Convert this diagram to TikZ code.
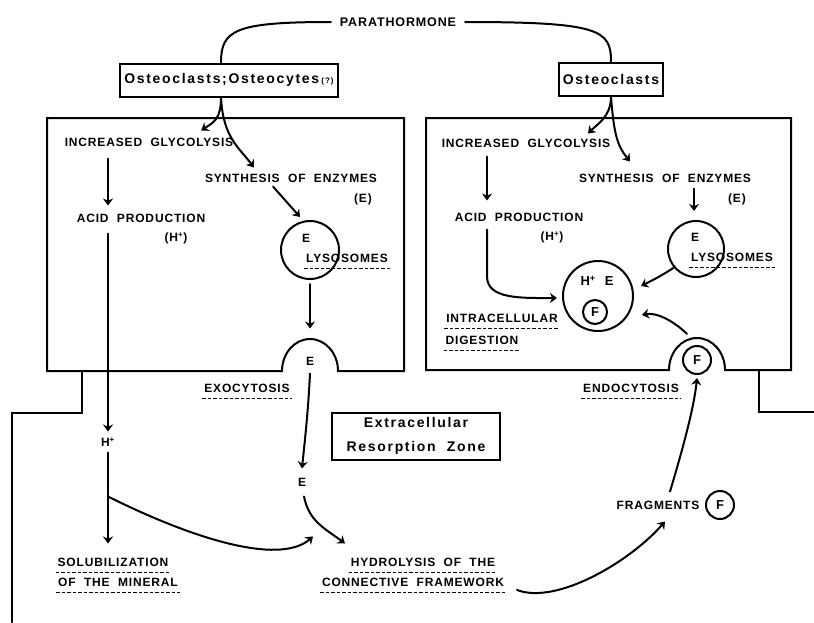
\documentclass[tikz,border=0pt]{standalone}
\usepackage{fontspec}
\usetikzlibrary{arrows.meta, calc, positioning}
\newfontfamily\labfont[LetterSpace=7,WordSpace=2]{Liberation Sans}
\newfontfamily\boxfont[LetterSpace=12,WordSpace=2]{Liberation Sans}

\begin{document}
\begin{tikzpicture}[x=1pt, y=1pt, yscale=-1, line width=2pt, line cap=round,
  arr/.style={-{Stealth[length=7pt,width=10pt]}},
  lbl/.style={font=\labfont\bfseries\fontsize{12}{14}\selectfont, text height=9pt, text depth=0pt, inner xsep=1pt, inner ysep=5pt},
  uline/.style={lbl, append after command={(\tikzlastnode.south west) edge[line width=1.4pt, dash pattern=on 3.5pt off 2pt, line cap=butt] (\tikzlastnode.south east)}},
  cellbox/.style={draw, font=\boxfont\bfseries\fontsize{14}{16}\selectfont, inner xsep=4pt, minimum height=33pt},
  ring/.style={draw, circle, inner sep=0pt, font=\labfont\bfseries\fontsize{13}{14}\selectfont}]
\useasboundingbox (0,0) rectangle (814,622);

% hormone and target cells
\node[font=\labfont\bfseries\fontsize{12.5}{14}\selectfont, inner xsep=8pt] (pth) at (398,22) {PARATHORMONE};
\node[cellbox] (oscL) at (229,80) {Osteoclasts;Osteocytes\,{\fontsize{8}{8}\selectfont\bfseries(?)}};
\node[cellbox] (oscR) at (611,79) {Osteoclasts};
\draw (pth.west) .. controls (235,22) and (221,30) .. ($(oscL.north)+(-8,0)$);
\draw (pth.east) .. controls (600,22) and (611,30) .. (oscR.north);

% cell outlines with the membrane bumps
\draw (47,118) -- (404,118) -- (404,371) -- (338,371) arc[start angle=0, end angle=-180, x radius=28, y radius=32] -- (47,371) -- cycle;
\draw (426,118) -- (791,118) -- (791,370) -- (725,370) arc[start angle=0, end angle=-180, x radius=28, y radius=32] -- (426,370) -- cycle;
% bone surface
\draw (82,371) -- (82,413) -- (12,413) -- (12,622);
\draw (759,370) -- (759,412) -- (814,412);

% left cell
\node[lbl] (glycL) at (149,142) {INCREASED GLYCOLYSIS};
\node[lbl] (synL) at (291,178) {SYNTHESIS OF ENZYMES};
\node[lbl] (enzL) at (363,198) {(E)};
\node[lbl] (acidL) at (141,218) {ACID PRODUCTION};
\node[lbl] (hL) at (176,237) {(H\textsuperscript{+})};
\node[ring, minimum size=58pt] (lysL) at (310,250) {};
\node[lbl] (lysEL) at (306,238) {E};
\node[uline] (lysTL) at (347,258) {LYSOSOMES};
\node[lbl] (bE) at (310,361) {E};
\node[uline] (exo) at (247,388) {EXOCYTOSIS};

% extracellular zone
\node[lbl] (hp) at (108,442) {H\textsuperscript{+}};
\node[lbl] (eX) at (302,482) {E};
\node[draw, font=\boxfont\bfseries\fontsize{14}{24}\selectfont, align=center, minimum width=168pt, minimum height=47pt, inner sep=2pt] (zone) at (416,436) {Extracellular\\Resorption Zone};
\node[uline] (solL) at (113,562) {SOLUBILIZATION};
\node[uline] (minL) at (118,582) {OF THE MINERAL};
\node[uline] (hyL) at (423,562) {HYDROLYSIS OF THE};
\node[uline] (coL) at (413,582) {CONNECTIVE FRAMEWORK};
\node[lbl] (frL) at (658,505) {FRAGMENTS};
\node[ring, minimum size=28pt] (frF) at (720,505) {F};

% right cell
\node[lbl] (glycR) at (526,143) {INCREASED GLYCOLYSIS};
\node[lbl] (synR) at (665,178) {SYNTHESIS OF ENZYMES};
\node[lbl] (enzR) at (737,198) {(E)};
\node[lbl] (acidR) at (519,217) {ACID PRODUCTION};
\node[lbl] (hR) at (552,236) {(H\textsuperscript{+})};
\node[ring, minimum size=56pt] (lysR) at (696,249) {};
\node[lbl] (lysER) at (695,237) {E};
\node[uline] (lysTR) at (732,257) {LYSOSOMES};
\node[ring, minimum size=70pt] (dig) at (598,296) {};
\node[lbl, font=\labfont\bfseries\fontsize{13}{14}\selectfont] (digHE) at (597,281) {H\textsuperscript{+}\ E};
\node[ring, minimum size=24pt] (digF) at (595,312) {F};
\node[uline] (intra) at (502,318) {INTRACELLULAR};
\node[uline] (dige) at (482,340) {DIGESTION};
\node[ring, minimum size=28pt] (bF) at (697,360) {F};
\node[uline] (endo) at (631,388) {ENDOCYTOSIS};

% left pathway
\draw[arr] ($(oscL.south)+(-8,0)$) .. controls +(0,22) and +(12,-8) .. ($(glycL.north east)+(-34,-1)$);
\draw[arr] ($(oscL.south)+(-8,0)$) .. controls +(2,40) and +(-15,-20) .. ($(synL.north)+(-37,0)$);
\draw[arr] ($(glycL.south)+(-41,6)$) -- ($(acidL.north)+(-33,-2)$);
\draw[arr] ($(acidL.south)+(-33,5)$) -- (hp.north);
\draw[arr] (hp.south) -- ($(solL.north)+(-5,-8)$);
\draw[arr] ($(hp.south)+(0,44)$) .. controls +(80,40) and +(-35,30) .. ($(hyL.north)+(-110,-15)$);
\draw[arr] ($(synL.south)+(-18,-2)$) -- ($(lysL.north)+(-10,-3)$);
\draw[arr] ($(lysL.south)+(0,4)$) -- ($(bE.north)+(0,-22)$);
\draw[arr] ($(bE.south)+(0,2)$) .. controls +(-2,40) and +(3,-30) .. ($(eX.north)+(0,-3)$);
\draw[arr] ($(eX.south)+(2,4)$) .. controls +(5,25) and +(-20,-15) .. ($(hyL.north)+(-78,-8)$);
\draw[arr] ($(coL.center)+(104,8)$) .. controls +(40,15) and +(-35,40) .. ($(frL.south)+(7,6)$);
\draw[arr] ($(frL.north)+(12,-3)$) .. controls +(12,-40) and +(-3,30) .. ($(bF.south)+(0,3)$);

% right pathway
\draw[arr] (oscR.south) .. controls +(0,20) and +(10,-10) .. ($(glycR.north)+(62,1)$);
\draw[arr] (oscR.south) .. controls +(3,40) and +(-12,-15) .. ($(synR.north)+(-35,-6)$);
\draw[arr] ($(glycR.south)+(-39,3)$) -- ($(acidR.north)+(-32,-6)$);
\draw[arr] ($(acidR.south)+(-32,2)$) -- ++(0,47) .. controls +(0,23) and +(-35,0) .. ($(dig.west)+(-5,2)$);
\draw[arr] ($(synR.south)+(29,0)$) -- ($(lysR.north)+(-2,-9)$);
\draw[arr] (lysR.220) .. controls +(-12,8) and +(12,-6) .. ($(dig.east)+(7,-10)$);
\draw[arr] ($(bF.north)+(-10,-11)$) .. controls +(-12,-12) and +(15,-3) .. ($(dig.east)+(8,19)$);
\end{tikzpicture}
\end{document}
